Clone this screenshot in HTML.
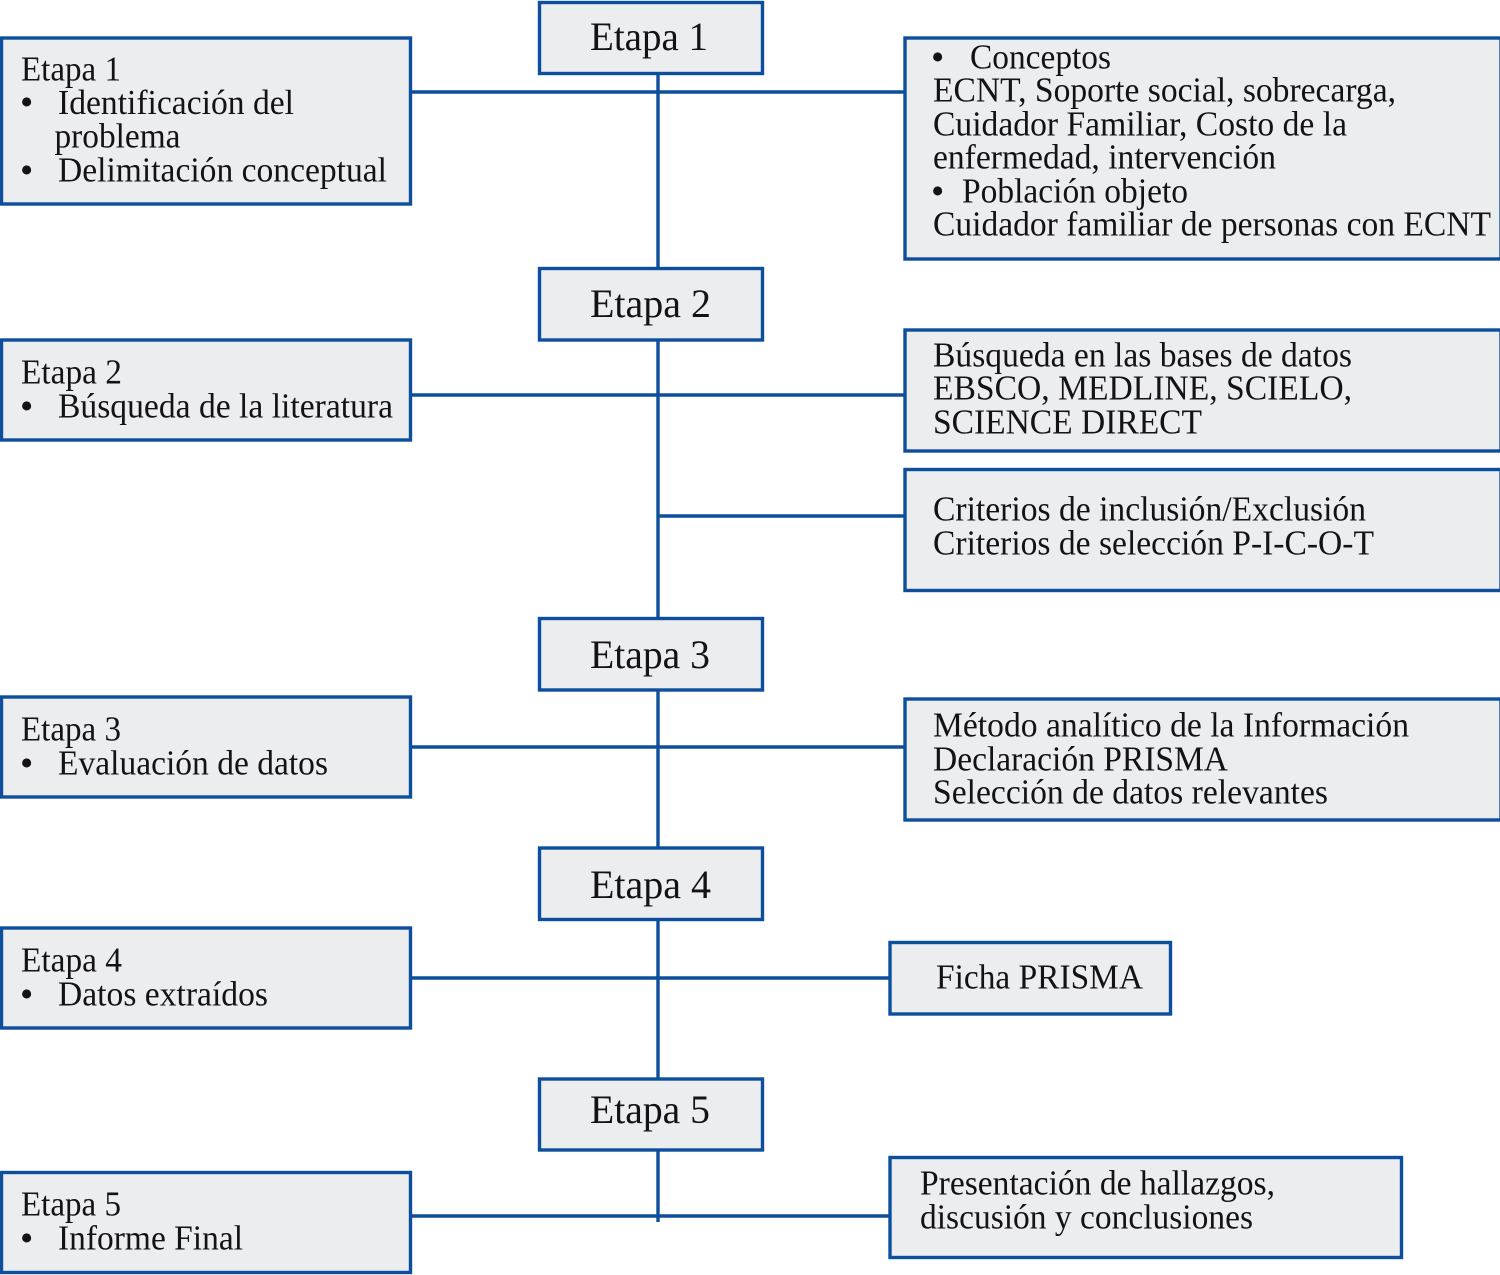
<!DOCTYPE html>
<html lang="es">
<head>
<meta charset="utf-8">
<title>Etapas</title>
<style>
html,body{margin:0;padding:0;background:#fff}
svg{display:block}
text{font-family:"Liberation Serif",serif;fill:#141213}
.s{font-size:34.5px}
.b{font-size:38px}
.c{font-size:40.5px}
rect{fill:#ecedef;stroke:#0d4f9c;stroke-width:3.4}
line{stroke:#0d4f9c;stroke-width:3.4}
</style>
</head>
<body>
<svg width="1500" height="1275" viewBox="0 0 1500 1275" xmlns="http://www.w3.org/2000/svg">
<line x1="658" y1="75" x2="658" y2="1222"/>
<line x1="411" y1="92" x2="905" y2="92"/>
<line x1="411" y1="395" x2="905" y2="395"/>
<line x1="658" y1="516" x2="905" y2="516"/>
<line x1="411" y1="747" x2="905" y2="747"/>
<line x1="411" y1="978" x2="890" y2="978"/>
<line x1="411" y1="1216" x2="890" y2="1216"/>

<rect x="539.5" y="2.5" width="223" height="71"/>
<rect x="539.5" y="268.5" width="223" height="71.5"/>
<rect x="539.5" y="618.5" width="223" height="71.5"/>
<rect x="539.5" y="848" width="223" height="71.5"/>
<rect x="539.5" y="1079" width="223" height="71"/>

<rect x="1.5" y="38" width="409" height="166"/>
<rect x="1.5" y="340" width="409" height="100"/>
<rect x="1.5" y="697" width="409" height="100"/>
<rect x="1.5" y="928" width="409" height="100"/>
<rect x="1.5" y="1172.5" width="409" height="100"/>

<rect x="905" y="38" width="596" height="221"/>
<rect x="905" y="330" width="596" height="121"/>
<rect x="905" y="469.5" width="596" height="121"/>
<rect x="905" y="699" width="596" height="121"/>
<rect x="890" y="942.5" width="280.5" height="71.5"/>
<rect x="890" y="1157.5" width="511.5" height="100"/>

<text class="c" x="590" y="50" textLength="118" lengthAdjust="spacingAndGlyphs">Etapa 1</text>
<text class="c" x="590" y="317" textLength="121" lengthAdjust="spacingAndGlyphs">Etapa 2</text>
<text class="c" x="590" y="668" textLength="120" lengthAdjust="spacingAndGlyphs">Etapa 3</text>
<text class="c" x="590" y="898" textLength="121" lengthAdjust="spacingAndGlyphs">Etapa 4</text>
<text class="c" x="590" y="1123" textLength="120" lengthAdjust="spacingAndGlyphs">Etapa 5</text>

<g transform="translate(0,0.6)">
<text class="s" x="21" y="80" textLength="100" lengthAdjust="spacingAndGlyphs">Etapa 1</text>
<text class="b" x="20" y="114">•</text>
<text class="s" x="58" y="113.4" textLength="236" lengthAdjust="spacingAndGlyphs">Identificación del</text>
<text class="s" x="54.5" y="147" textLength="126" lengthAdjust="spacingAndGlyphs">problema</text>
<text class="b" x="20" y="182">•</text>
<text class="s" x="58" y="181" textLength="329" lengthAdjust="spacingAndGlyphs">Delimitación conceptual</text>

<text class="s" x="21" y="383" textLength="101" lengthAdjust="spacingAndGlyphs">Etapa 2</text>
<text class="b" x="20" y="418">•</text>
<text class="s" x="58" y="417" textLength="335" lengthAdjust="spacingAndGlyphs">Búsqueda de la literatura</text>

<text class="s" x="21" y="740" textLength="100" lengthAdjust="spacingAndGlyphs">Etapa 3</text>
<text class="b" x="20" y="775">•</text>
<text class="s" x="58" y="774" textLength="270" lengthAdjust="spacingAndGlyphs">Evaluación de datos</text>

<text class="s" x="21" y="971" textLength="101" lengthAdjust="spacingAndGlyphs">Etapa 4</text>
<text class="b" x="20" y="1006">•</text>
<text class="s" x="58" y="1005" textLength="210" lengthAdjust="spacingAndGlyphs">Datos extraídos</text>

<text class="s" x="21" y="1215" textLength="100" lengthAdjust="spacingAndGlyphs">Etapa 5</text>
<text class="b" x="20" y="1250">•</text>
<text class="s" x="58" y="1249" textLength="185" lengthAdjust="spacingAndGlyphs">Informe Final</text>

<text class="b" x="931" y="69">•</text>
<text class="s" x="970" y="68" textLength="141" lengthAdjust="spacingAndGlyphs">Conceptos</text>
<text class="s" x="933" y="101" textLength="463" lengthAdjust="spacingAndGlyphs">ECNT, Soporte social, sobrecarga,</text>
<text class="s" x="933" y="135" textLength="414" lengthAdjust="spacingAndGlyphs">Cuidador Familiar, Costo de la</text>
<text class="s" x="933" y="168" textLength="343" lengthAdjust="spacingAndGlyphs">enfermedad, intervención</text>
<text class="b" x="931" y="203">•</text>
<text class="s" x="962" y="202" textLength="226" lengthAdjust="spacingAndGlyphs">Población objeto</text>
<text class="s" x="933" y="235" textLength="558" lengthAdjust="spacingAndGlyphs">Cuidador familiar de personas con ECNT</text>

<text class="s" x="933" y="366" textLength="419" lengthAdjust="spacingAndGlyphs">Búsqueda en las bases de datos</text>
<text class="s" x="933" y="399" textLength="419" lengthAdjust="spacingAndGlyphs">EBSCO, MEDLINE, SCIELO,</text>
<text class="s" x="933" y="433" textLength="269" lengthAdjust="spacingAndGlyphs">SCIENCE DIRECT</text>

<text class="s" x="933" y="520" textLength="433" lengthAdjust="spacingAndGlyphs">Criterios de inclusión/Exclusión</text>
<text class="s" x="933" y="554" textLength="441" lengthAdjust="spacingAndGlyphs">Criterios de selección P-I-C-O-T</text>

<text class="s" x="933" y="736" textLength="476" lengthAdjust="spacingAndGlyphs">Método analítico de la Información</text>
<text class="s" x="933" y="770" textLength="295" lengthAdjust="spacingAndGlyphs">Declaración PRISMA</text>
<text class="s" x="933" y="803" textLength="395" lengthAdjust="spacingAndGlyphs">Selección de datos relevantes</text>

<text class="s" x="936" y="988" textLength="207" lengthAdjust="spacingAndGlyphs">Ficha PRISMA</text>

<text class="s" x="920" y="1194" textLength="355" lengthAdjust="spacingAndGlyphs">Presentación de hallazgos,</text>
<text class="s" x="920" y="1228" textLength="333" lengthAdjust="spacingAndGlyphs">discusión y conclusiones</text>
</g>
</svg>
</body>
</html>
